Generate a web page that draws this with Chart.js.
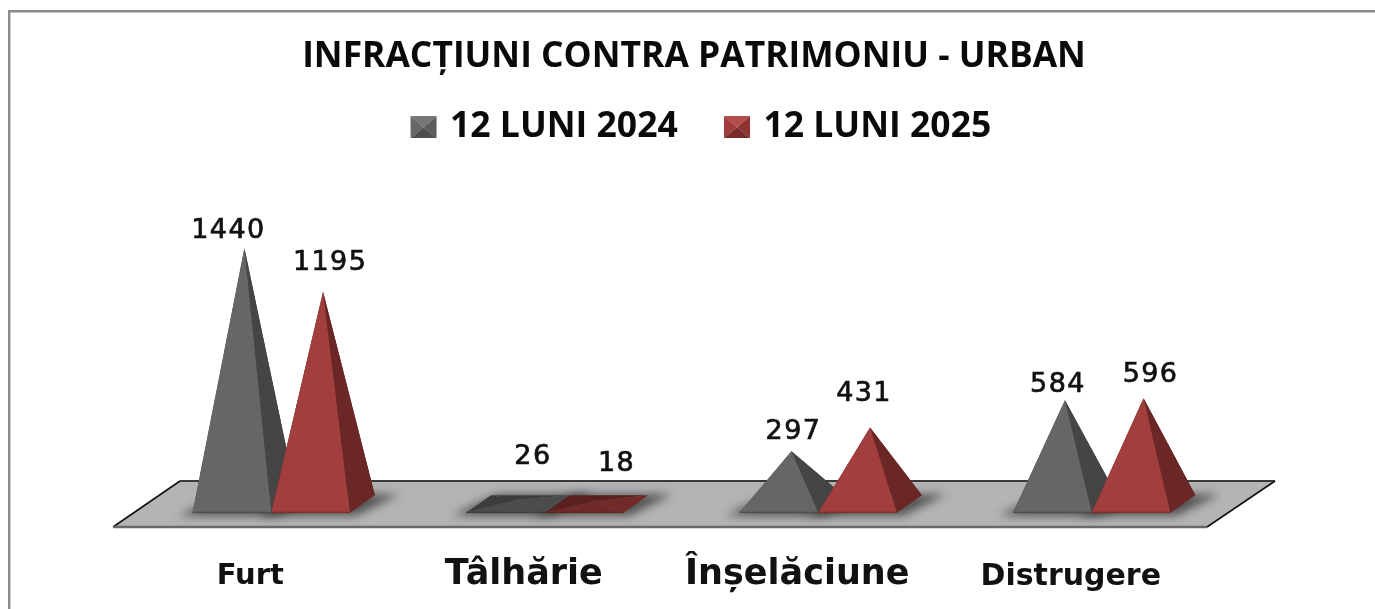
<!DOCTYPE html>
<html><head><meta charset="utf-8">
<script src="https://cdn.jsdelivr.net/npm/chart.js@4/dist/chart.umd.js"></script>
<style>html,body{margin:0;padding:0;background:#fff;overflow:hidden}canvas{display:block;filter:blur(.45px)}</style>
</head><body><canvas id="c" width="1375" height="609"></canvas>
<script>
const categories = ['Furt','Tâlhărie','Înșelăciune','Distrugere'];
const series2024 = [1440,26,297,584];
const series2025 = [1195,18,431,596];
const seriesNames = ['12 LUNI 2024','12 LUNI 2025'];
const chartTitle = 'INFRACȚIUNI CONTRA PATRIMONIU - URBAN';

const palette = [
  {front:'#666666',side:'#454545',flat:'#4c4c4c',back:'#3c3c3c',lo:'#4a4a4a',mT:'#767676',mL:'#666666',mR:'#5c5c5c',mB:'#4e4e4e'},
  {front:'#a23e3d',side:'#6b2725',flat:'#722a28',back:'#5a201f',lo:'#752a29',mT:'#b34c4a',mL:'#a03c3b',mR:'#8e3332',mB:'#762a29'}
];
const tickFonts = [
  {size:29,lh:'37px'},{size:35,lh:'33px'},{size:35,lh:'33px'},{size:30,lh:'38px'}
];
const labelShift = [[[-16,-17],[7,-29]],[[15,0],[20,0]],[[2,-19],[-6,-34]],[[-7,-15],[7,-23]]];
const flatLabelY = [457,464];
const DX=12.5, DY=8.7;

function marker(p){
  const m=document.createElement('canvas');m.width=52;m.height=22;const g=m.getContext('2d');
  g.translate(22,0);
  const f=(c,pts)=>{g.fillStyle=c;g.beginPath();pts.forEach((q,i)=>i?g.lineTo(q[0],q[1]):g.moveTo(q[0],q[1]));g.closePath();g.fill();};
  const c=[13,11];
  f(p.mT,[[0,0],[26,0],c]);f(p.mL,[[0,0],[0,22],c]);f(p.mR,[[26,0],[26,22],c]);f(p.mB,[[0,22],[26,22],c]);
  return m;
}
const poly=(ctx,pts)=>{ctx.beginPath();pts.forEach((q,i)=>i?ctx.lineTo(q[0],q[1]):ctx.moveTo(q[0],q[1]));ctx.closePath();};

const pyramids={
  id:'pyramids',
  beforeDraw(chart){
    const {ctx,chartArea:a}=chart, y0=chart.scales.y.getPixelForValue(0);
    ctx.save();
    ctx.fillStyle='#8a8a8a';ctx.fillRect(8,10,1367,2.5);ctx.fillRect(8,10,2.4,599);
    const fl=[[a.left-34,y0+23],[a.right-34,y0+23],[a.right+34,y0-23],[a.left+33,y0-23]];
    poly(ctx,fl);ctx.fillStyle='#b4b4b4';ctx.fill();
    ctx.save();poly(ctx,fl);ctx.clip();
    ctx.filter='blur(5px)';ctx.fillStyle='rgba(50,50,50,.75)';
    chart.data.datasets.forEach((d,i)=>chart.getDatasetMeta(i).data.forEach(el=>{
      const h=el.width/2;
      poly(ctx,[[el.x-h-DX-14,el.base+DY+3],[el.x+h-DX+6,el.base+DY+3],[el.x+h+DX+24,el.base-DY-1],[el.x-h+DX+6,el.base-DY-1]]);ctx.fill();
    }));
    ctx.restore();
    ctx.strokeStyle='#3a3a3a';ctx.lineWidth=2;
    ctx.beginPath();ctx.moveTo(fl[3][0],fl[3][1]);ctx.lineTo(fl[2][0],fl[2][1]);ctx.stroke();
    ctx.strokeStyle='#111';ctx.lineWidth=1.6;
    ctx.beginPath();ctx.moveTo(fl[0][0],fl[0][1]);ctx.lineTo(fl[3][0],fl[3][1]);ctx.moveTo(fl[1][0],fl[1][1]);ctx.lineTo(fl[2][0],fl[2][1]);ctx.stroke();
    ctx.strokeStyle='#6a6a6a';ctx.lineWidth=2.5;
    ctx.beginPath();ctx.moveTo(fl[0][0],fl[0][1]);ctx.lineTo(fl[1][0],fl[1][1]);ctx.stroke();
    ctx.restore();
  },
  beforeDatasetDraw(){return false;},
  afterDatasetsDraw(chart){
    const ctx=chart.ctx;
    ctx.save();
    [0,1].forEach(s=>{
      const p=palette[s];
      chart.getDatasetMeta(s).data.forEach(el=>{
        const h=el.width/2,b=el.base,A=[el.x,el.y];
        const FL=[el.x-h-DX,b+DY],FR=[el.x+h-DX,b+DY],BR=[el.x+h+DX,b-DY],BL=[el.x-h+DX,b-DY];
        const flat=el.y>BR[1];
        ctx.fillStyle=p.back;poly(ctx,[BL,BR,A]);ctx.fill();
        poly(ctx,[FL,BL,A]);ctx.fill();
        ctx.fillStyle=flat?p.flat:p.side;poly(ctx,[FR,BR,A]);ctx.fill();
        ctx.fillStyle=flat?p.flat:p.front;poly(ctx,[FL,FR,A]);ctx.fill();
        ctx.fillStyle=flat?p.back:p.lo;ctx.globalAlpha=.8;ctx.fillRect(FL[0],FL[1]-1,FR[0]-FL[0],1.5);ctx.globalAlpha=1;
      });
    });
    ctx.font='27px "DejaVu Sans"';ctx.letterSpacing='1.4px';ctx.fillStyle='#111';ctx.strokeStyle='#111';ctx.lineWidth=.7;ctx.textAlign='center';ctx.textBaseline='middle';
    [0,1].forEach(s=>{
      const vals=chart.data.datasets[s].data;
      chart.getDatasetMeta(s).data.forEach((el,i)=>{
        const sh=labelShift[i][s];
        const y=i===1?flatLabelY[s]:el.y+sh[1];
        ctx.fillText(String(vals[i]),el.x+sh[0],y);
        ctx.strokeText(String(vals[i]),el.x+sh[0],y);
      });
    });
    ctx.restore();
  }
};

new Chart(document.getElementById('c'),{
  type:'bar',
  plugins:[pyramids],
  data:{labels:categories,datasets:[
    {label:seriesNames[0],data:series2024,backgroundColor:palette[0].front,barPercentage:1,categoryPercentage:0.575},
    {label:seriesNames[1],data:series2025,backgroundColor:palette[1].front,barPercentage:1,categoryPercentage:0.575}
  ]},
  options:{
    responsive:false,animation:false,devicePixelRatio:1,
    layout:{padding:{left:147,right:134,top:0,bottom:0}},
    plugins:{
      tooltip:{enabled:false},
      title:{display:true,text:chartTitle,color:'#0a0a0a',
        font:{family:'"Open Sans"',size:35.4,weight:'700',lineHeight:1},
        padding:{top:39,bottom:2.6}},
      legend:{display:true,position:'top',
        labels:{color:'#0a0a0a',font:{family:'"Open Sans"',size:35.5,weight:'700'},
          usePointStyle:true,boxWidth:37,boxHeight:22,padding:32.5,
          generateLabels(chart){return chart.data.datasets.map((d,i)=>({text:d.label,pointStyle:marker(palette[i]),datasetIndex:i,fontColor:'#0a0a0a',lineWidth:0,strokeStyle:'transparent',fillStyle:d.backgroundColor}));}
        }}
    },
    scales:{
      x:{grid:{display:false,drawTicks:false},border:{display:false},
        afterFit(s){s.height=105;},
        ticks:{autoSkip:false,maxRotation:0,minRotation:0,padding:54,labelOffset:-33.5,color:'#111',
          font(ctx){const f=tickFonts[ctx.index]||tickFonts[0];return {family:'"DejaVu Sans"',size:f.size,weight:'700',lineHeight:f.lh};}}},
      y:{display:false,min:0,max:1966,grid:{display:false}}
    }
  }
});
</script></body></html>
